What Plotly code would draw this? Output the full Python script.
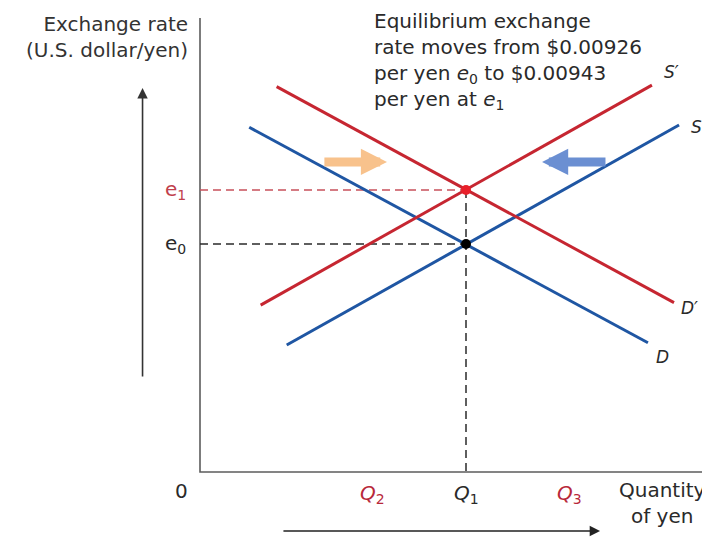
import plotly.graph_objects as go

# ---- data (diagram units: quantity of yen on x, exchange rate on y, origin at 0,0)
Q1, Q2, Q3 = 100, 65, 139
e0, e1 = 100, 123.7

D_x = [18.5, 168.4]
D_y = [151.2, 56.7]
D1_x = [28.8, 178.2]
D1_y = [169.0, 74.3]
S_x = [32.6, 180.1]
S_y = [55.7, 152.2]
S1_x = [22.8, 169.9]
S1_y = [73.2, 169.7]

X_END, Y_TOP = 195.0, 199.1

RED = "#c62631"
BLUE = "#1f56a3"
FONT = "DejaVu Sans"

fig = go.Figure()

# axes of the diagram
fig.add_trace(go.Scatter(x=[0, 0, X_END], y=[Y_TOP, 0, 0], mode="lines",
                         line=dict(color="#5c5c5c", width=1.6), hoverinfo="skip"))

# guide lines
fig.add_trace(go.Scatter(x=[0, Q1], y=[e1, e1], mode="lines",
                         line=dict(color="#c7505b", width=1.5, dash="8px,5px"), hoverinfo="skip"))
fig.add_trace(go.Scatter(x=[0, Q1], y=[e0, e0], mode="lines",
                         line=dict(color="#2a2a2a", width=1.5, dash="8px,5px"), hoverinfo="skip"))
fig.add_trace(go.Scatter(x=[Q1, Q1], y=[e1, 0], mode="lines",
                         line=dict(color="#2a2a2a", width=1.5, dash="8px,5px"), hoverinfo="skip"))

# curves
for xs, ys, c in [(D_x, D_y, BLUE), (S_x, S_y, BLUE), (D1_x, D1_y, RED), (S1_x, S1_y, RED)]:
    fig.add_trace(go.Scatter(x=xs, y=ys, mode="lines", line=dict(color=c, width=3),
                             hoverinfo="skip"))

# equilibrium points
fig.add_trace(go.Scatter(x=[Q1], y=[e1], mode="markers",
                         marker=dict(color="#e8202a", size=10), hoverinfo="skip"))
fig.add_trace(go.Scatter(x=[Q1], y=[e0], mode="markers",
                         marker=dict(color="#000000", size=10), hoverinfo="skip"))

ann = []
# axis arrows
ann.append(dict(x=-21.6, y=168.4, ax=-21.6, ay=41.2, xref="x", yref="y", axref="x", ayref="y",
                text="", showarrow=True, arrowhead=2, arrowsize=1.3, arrowwidth=1.6,
                arrowcolor="#333333"))
ann.append(dict(x=150.4, y=-25.9, ax=30.8, ay=-25.9, xref="x", yref="y", axref="x", ayref="y",
                text="", showarrow=True, arrowhead=2, arrowsize=1.3, arrowwidth=1.6,
                arrowcolor="#222222"))
# shift arrows
ann.append(dict(x=70.3, y=136.0, ax=46.2, ay=136.0, xref="x", yref="y", axref="x", ayref="y",
                text="", showarrow=True, arrowhead=2, arrowsize=0.58, arrowwidth=9,
                arrowcolor="#f8c28c"))
ann.append(dict(x=128.6, y=136.0, ax=153.0, ay=136.0, xref="x", yref="y", axref="x", ayref="y",
                text="", showarrow=True, arrowhead=2, arrowsize=0.58, arrowwidth=9,
                arrowcolor="#6b8fd2"))


def label(x, y, text, color="#2a2a2a", size=20, xanchor="center", yanchor="middle", align="center"):
    ann.append(dict(x=x, y=y, xref="x", yref="y", text=text, showarrow=False,
                    font=dict(family=FONT, size=size, color=color),
                    xanchor=xanchor, yanchor=yanchor, align=align))


label(-3.8, 191.0, "Exchange rate<br>(U.S. dollar/yen)", color="#333333", xanchor="right", align="right")
label(64.7, 180.4, "Equilibrium exchange<br>rate moves from $0.00926<br>per yen <i>e</i><sub>0</sub> to $0.00943<br>per yen at <i>e</i><sub>1</sub>",
      xanchor="left", align="left")
label(-4.5, e1, "e<sub>1</sub>", color="#c0404c", xanchor="right")
label(-4.5, e0, "e<sub>0</sub>", color="#2a2a2a", xanchor="right")
label(-6.8, -8.3, "0")
label(Q2, -9.6, "<i>Q</i><sub>2</sub>", color="#b8283a")
label(Q1, -9.6, "<i>Q</i><sub>1</sub>")
label(Q3, -9.6, "<i>Q</i><sub>3</sub>", color="#b8283a")
label(173.7, -13.6, "Quantity<br>of yen")
label(177.4, 175.4, "<i>S′</i>", size=17)
label(186.5, 151.3, "<i>S</i>", size=17)
label(184.2, 71.9, "<i>D′</i>", size=17)
label(173.7, 50.4, "<i>D</i>", size=17)

# the page body adds an 8px offset, so the figure is 702x529 and the ranges are set to match
fig.update_layout(
    width=702, height=529,
    margin=dict(l=0, r=0, t=0, b=0),
    paper_bgcolor="white", plot_bgcolor="white",
    showlegend=False,
    xaxis=dict(range=[-72.18, 191.73], visible=False, fixedrange=True),
    yaxis=dict(range=[-28.51, 203.51], visible=False, fixedrange=True),
    annotations=ann,
)

fig.write_html("out.html")
